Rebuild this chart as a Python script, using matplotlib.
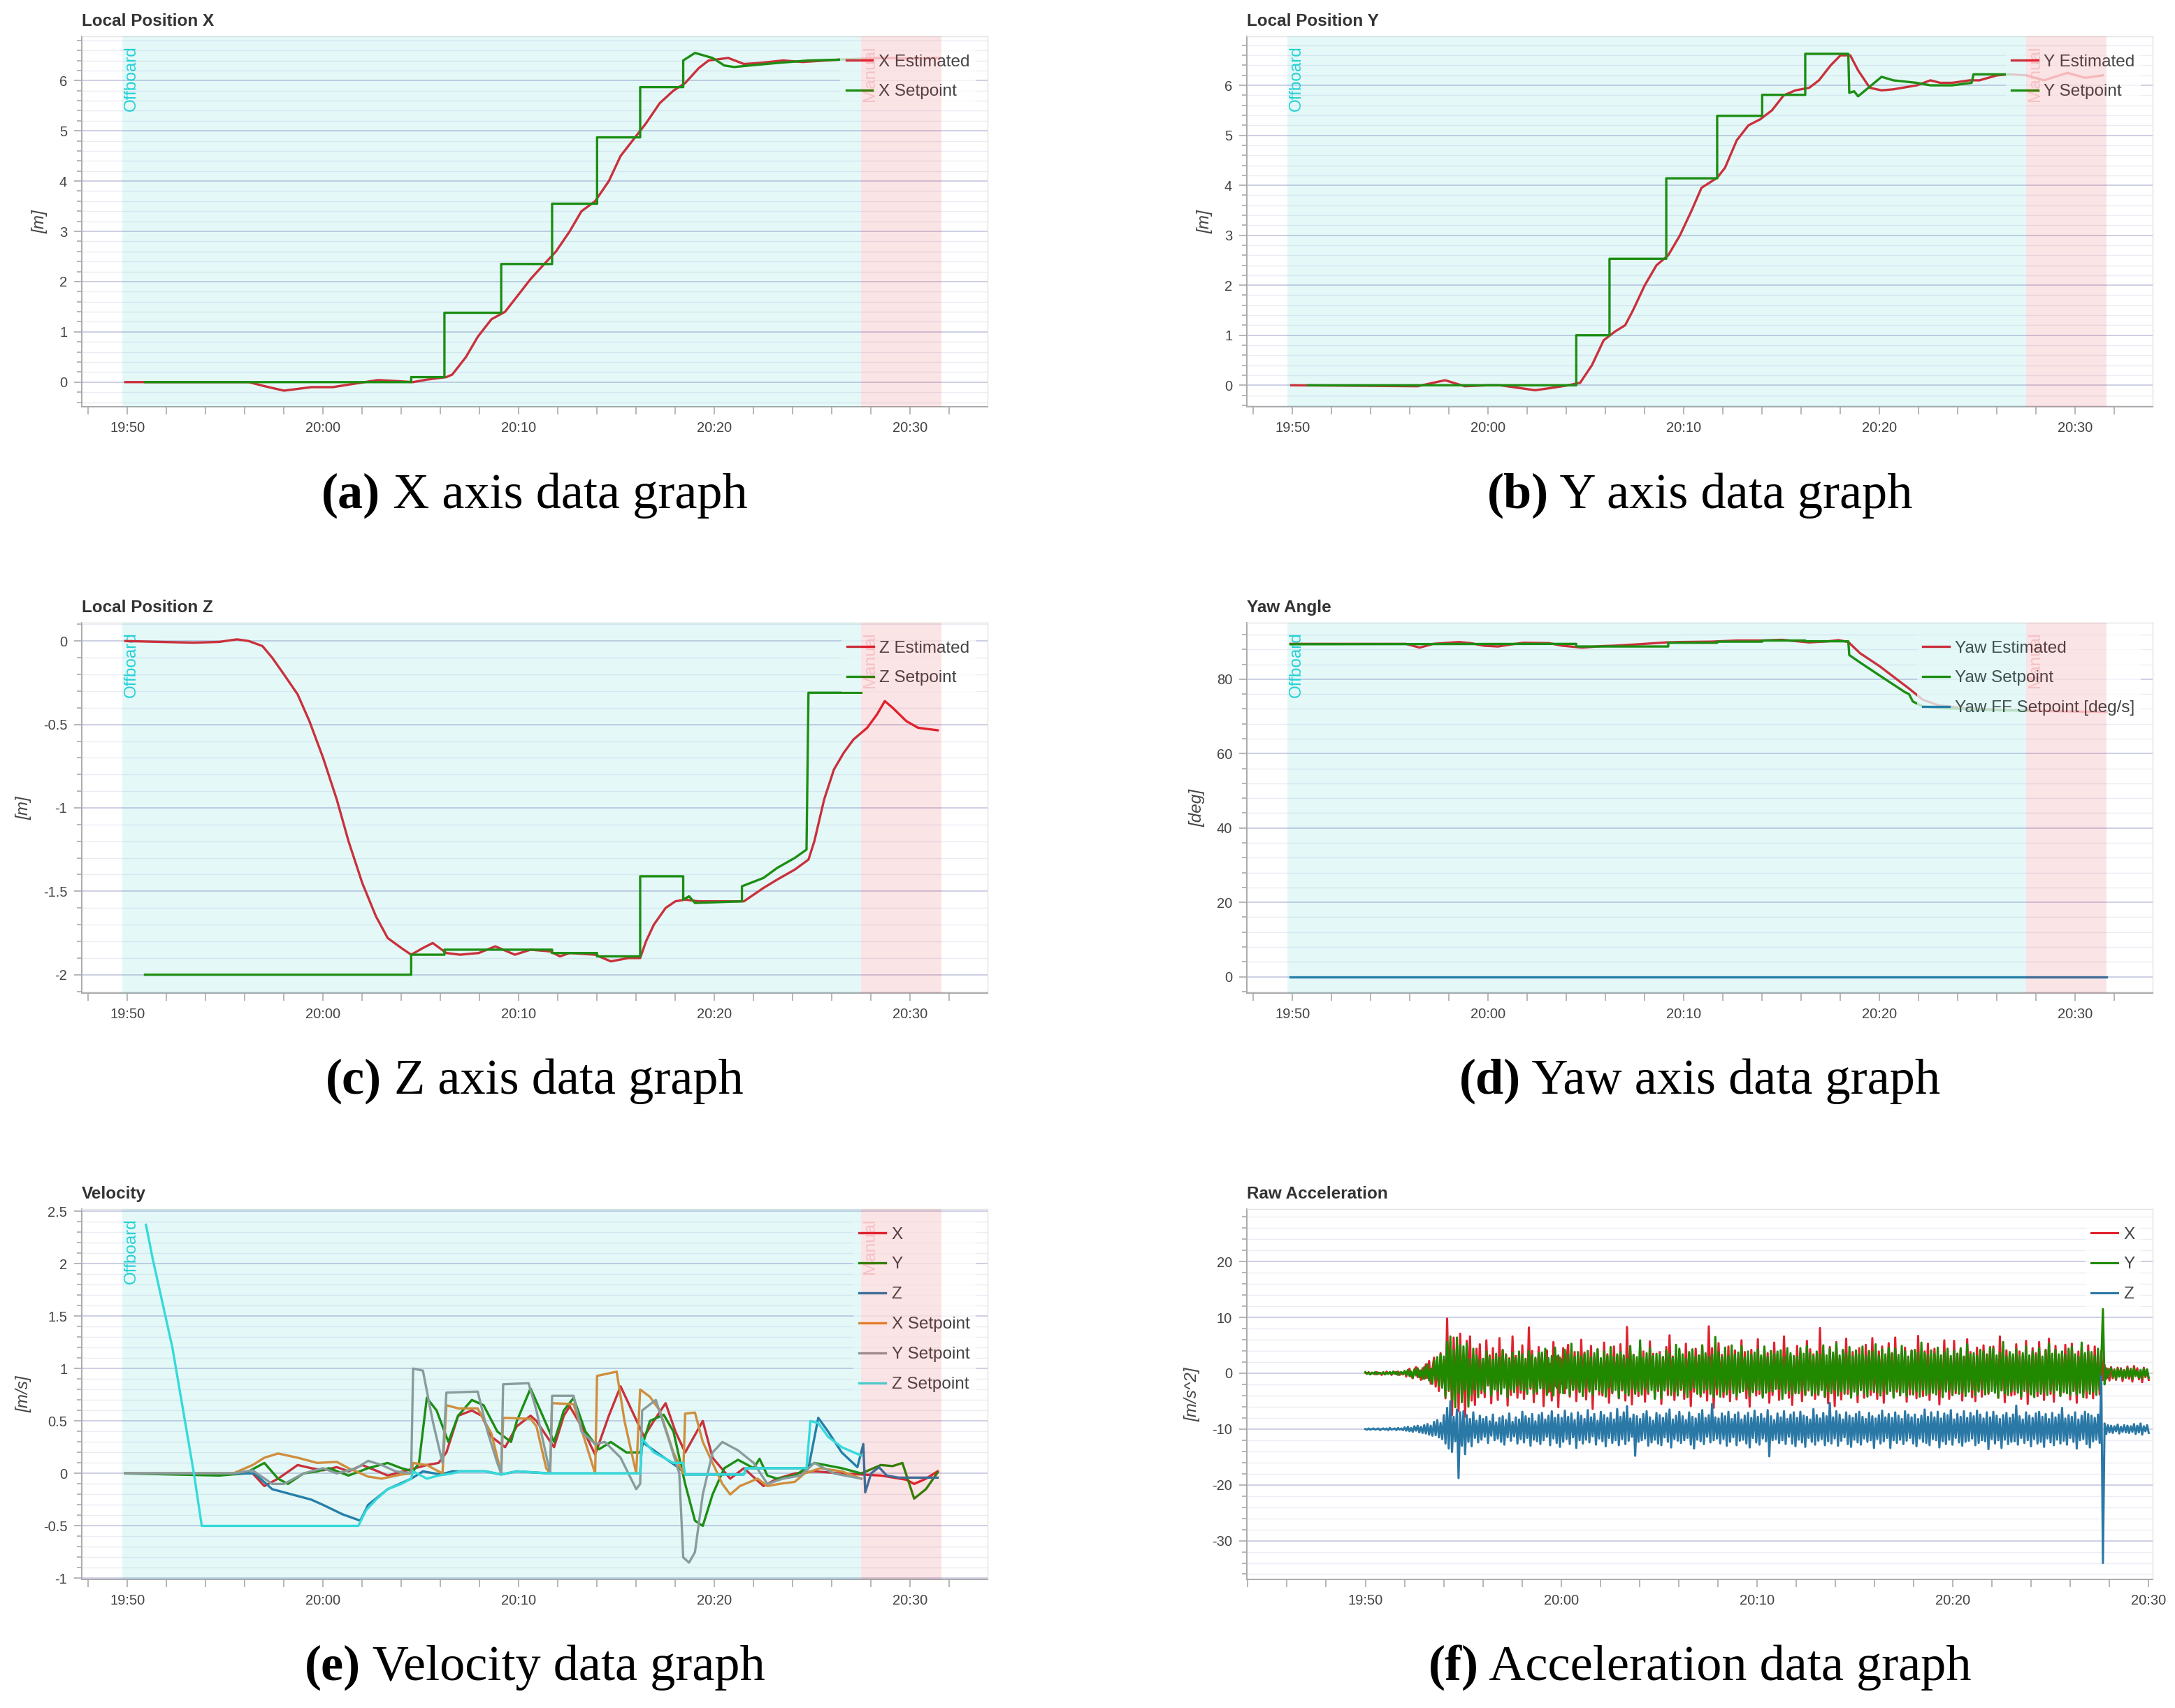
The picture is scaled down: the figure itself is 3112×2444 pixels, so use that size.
import numpy as np
import matplotlib
matplotlib.use("Agg")
import matplotlib.pyplot as plt
from matplotlib.ticker import MultipleLocator, FuncFormatter

plt.rcParams['font.family'] = ['Liberation Sans', 'DejaVu Sans']
plt.rcParams['axes.unicode_minus'] = False

# ---------------- data (time in minutes after 19:50) ----------------
offboard_span = (-0.26, 37.5)
manual_span = (37.5, 41.6)

x_est = [(-0.1, 0), (6.2, 0), (7.0, -0.08), (8.0, -0.17), (9.4, -0.1), (10.5, -0.1), (11.3, -0.05),
         (12.8, 0.04), (13.8, 0.02), (14.6, 0.0), (15.3, 0.05), (16.3, 0.1), (16.6, 0.15), (17.3, 0.5),
         (17.9, 0.9), (18.6, 1.25), (19.3, 1.4), (19.9, 1.7), (20.6, 2.05), (21.3, 2.35), (21.9, 2.6),
         (22.6, 3.0), (23.2, 3.4), (23.9, 3.6), (24.6, 4.0), (25.2, 4.5), (25.9, 4.85), (26.5, 5.15),
         (27.2, 5.55), (27.9, 5.8), (28.5, 5.95), (29.2, 6.25), (29.7, 6.4), (30.7, 6.45), (31.5, 6.33),
         (32.3, 6.35), (33.5, 6.4), (34.5, 6.37), (36.5, 6.42), (38.5, 6.45), (40.0, 6.44), (41.5, 6.45)]
x_sp = [(0.9, 0), (14.5, 0), (14.5, 0.1), (16.2, 0.1), (16.2, 1.38), (19.1, 1.38), (19.1, 2.35), (21.7, 2.35),
        (21.7, 3.55), (24.0, 3.55), (24.0, 4.87), (26.2, 4.87), (26.2, 5.87), (28.4, 5.87), (28.4, 6.4),
        (29.0, 6.55), (29.9, 6.45), (30.5, 6.3), (31.0, 6.27), (31.8, 6.3), (33.2, 6.35), (34.8, 6.4),
        (36.8, 6.42), (37.5, 6.42)]

y_est = [(-0.06, 0), (6.4, -0.02), (7.2, 0.05), (7.8, 0.1), (8.8, -0.02), (10.0, 0.0), (10.6, 0.0),
         (11.5, -0.05), (12.4, -0.1), (13.3, -0.05), (14.1, 0.0), (14.7, 0.05), (15.3, 0.4), (15.9, 0.9),
         (16.5, 1.08), (17.0, 1.2), (17.4, 1.5), (18.0, 2.0), (18.6, 2.4), (19.2, 2.6), (19.8, 3.0),
         (20.4, 3.5), (20.9, 3.95), (21.7, 4.15), (22.1, 4.35), (22.7, 4.9), (23.3, 5.2), (23.9, 5.32),
         (24.5, 5.5), (25.1, 5.8), (25.7, 5.9), (26.4, 5.95), (26.9, 6.1), (27.5, 6.4), (28.0, 6.6),
         (28.5, 6.6), (28.9, 6.3), (29.5, 5.95), (30.1, 5.9), (30.7, 5.92), (31.9, 6.0), (32.6, 6.1),
         (33.1, 6.05), (33.7, 6.05), (34.6, 6.1), (35.1, 6.1), (36.0, 6.2), (36.6, 6.22), (37.5, 6.2),
         (38.4, 6.1), (39.6, 6.25), (40.5, 6.15), (41.4, 6.2)]
y_sp = [(0.8, 0), (14.5, 0), (14.5, 1.0), (16.2, 1.0), (16.2, 2.53), (19.1, 2.53), (19.1, 4.14), (21.7, 4.14),
        (21.7, 5.39), (24.0, 5.39), (24.0, 5.81), (26.2, 5.81), (26.2, 6.63), (28.4, 6.63), (28.45, 5.85),
        (28.7, 5.88), (28.9, 5.78), (30.1, 6.17), (30.7, 6.1), (31.9, 6.05), (32.6, 6.0), (33.7, 6.0),
        (34.7, 6.05), (34.8, 6.22), (36.6, 6.22)]

z_est = [(-0.1, 0), (3.4, -0.01), (4.7, -0.005), (5.6, 0.01), (6.2, 0.0), (6.9, -0.03), (7.4, -0.1),
         (8.0, -0.2), (8.7, -0.32), (9.3, -0.48), (10.0, -0.7), (10.7, -0.95), (11.3, -1.2), (12.0, -1.45),
         (12.7, -1.65), (13.3, -1.78), (14.0, -1.84), (14.5, -1.88), (15.1, -1.84), (15.6, -1.81),
         (16.3, -1.87), (17.0, -1.88), (17.95, -1.87), (18.8, -1.83), (19.8, -1.88), (20.6, -1.85),
         (21.6, -1.86), (22.1, -1.89), (22.6, -1.87), (23.9, -1.88), (24.7, -1.92), (25.6, -1.9),
         (26.2, -1.9), (26.5, -1.8), (26.9, -1.7), (27.5, -1.6), (28.0, -1.56), (28.5, -1.55),
         (29.2, -1.56), (31.5, -1.56), (32.5, -1.48), (33.2, -1.43), (34.1, -1.37), (34.8, -1.31),
         (35.1, -1.2), (35.6, -0.95), (36.1, -0.77), (36.6, -0.67), (37.1, -0.59), (37.8, -0.52),
         (38.3, -0.44), (38.7, -0.36), (39.1, -0.4), (39.8, -0.48), (40.4, -0.52), (41.4, -0.535)]
z_sp = [(0.9, -2.0), (14.5, -2.0), (14.5, -1.88), (16.2, -1.88), (16.2, -1.85), (21.7, -1.85),
        (21.7, -1.87), (24.0, -1.87), (24.0, -1.89), (26.2, -1.89), (26.2, -1.41), (28.4, -1.41),
        (28.4, -1.55), (28.7, -1.53), (29.0, -1.57), (31.4, -1.56), (31.4, -1.47), (32.5, -1.42),
        (33.2, -1.36), (34.1, -1.3), (34.7, -1.25), (34.8, -0.31), (37.5, -0.31)]

yaw_est = [(-0.1, 89.5), (5.8, 89.5), (6.5, 88.5), (7.2, 89.5), (8.5, 90.0), (9.1, 89.7), (9.8, 89.0),
           (10.5, 88.8), (11.1, 89.3), (11.8, 89.8), (13.1, 89.7), (13.8, 89.0), (14.8, 88.5), (15.8, 88.9),
           (16.4, 89.0), (17.7, 89.4), (19.1, 89.9), (19.7, 90.0), (21.4, 90.1), (22.7, 90.4), (24.0, 90.4),
           (25.0, 90.6), (26.4, 89.9), (27.4, 90.2), (27.9, 90.5), (28.4, 90.0), (29.0, 87.0), (30.0, 83.5),
           (31.5, 77.5), (32.2, 74.5), (33.0, 73.0), (34.3, 72.2), (36.0, 71.8), (38.0, 71.5), (40.0, 71.3),
           (41.6, 71.2)]
yaw_sp = [(-0.1, 89.4), (14.5, 89.5), (14.5, 88.8), (19.2, 88.8), (19.2, 89.8), (21.7, 89.8), (21.7, 90.1),
          (24.0, 90.1), (24.0, 90.4), (26.2, 90.4), (26.2, 90.2), (28.4, 90.2), (28.45, 86.5), (29.0, 84.5),
          (30.0, 81.0), (31.3, 76.5), (31.5, 76.0), (31.7, 74.0), (32.2, 72.7), (33.0, 72.3), (35.0, 71.8),
          (37.6, 71.5)]
yaw_ff = [(-0.1, 0.0), (41.6, 0.0)]

vel_x = [(-0.1, 0), (6.4, 0.0), (7.0, -0.12), (7.7, -0.05), (8.7, 0.08), (9.4, 0.05), (10.0, 0.03), (10.7, 0.06),
         (11.3, 0.02), (12.0, 0.08), (12.8, 0.02), (13.3, -0.02), (14.3, 0.03), (15.3, 0.08), (15.9, 0.1),
         (16.3, 0.2), (16.9, 0.55), (17.6, 0.6), (18.1, 0.55), (18.6, 0.35), (19.3, 0.25), (19.9, 0.45),
         (20.6, 0.55), (20.9, 0.5), (21.8, 0.25), (22.3, 0.55), (22.6, 0.64), (23.2, 0.45), (23.9, 0.18),
         (24.6, 0.55), (25.2, 0.83), (25.9, 0.55), (26.4, 0.35), (26.9, 0.5), (27.5, 0.67), (28.0, 0.4),
         (28.5, 0.2), (29.4, 0.5), (29.9, 0.15), (30.8, -0.05), (31.5, 0.05), (32.5, -0.12), (33.2, -0.05),
         (34.1, 0.0), (35.1, 0.02), (36.5, 0.0), (37.5, -0.01), (38.5, -0.02), (39.8, -0.06), (40.2, -0.1),
         (40.8, -0.05), (41.4, 0.02)]
vel_y = [(-0.1, 0), (4.7, -0.02), (6.0, 0.0), (7.0, 0.1), (7.7, -0.05), (8.2, -0.1), (9.0, 0.0), (9.7, 0.02),
         (10.3, 0.05), (11.3, -0.02), (12.3, 0.05), (13.3, 0.1), (14.0, 0.05), (14.6, 0.02), (14.9, 0.1),
         (15.3, 0.72), (15.8, 0.6), (16.4, 0.3), (16.9, 0.55), (17.6, 0.7), (18.2, 0.65), (18.9, 0.4),
         (19.6, 0.3), (19.9, 0.5), (20.6, 0.81), (21.1, 0.6), (21.8, 0.3), (22.3, 0.6), (22.8, 0.72),
         (23.4, 0.4), (24.1, 0.23), (24.7, 0.3), (25.5, 0.2), (26.2, 0.2), (26.7, 0.5), (27.4, 0.56),
         (27.9, 0.4), (28.5, -0.1), (29.0, -0.45), (29.4, -0.5), (29.9, -0.2), (30.5, 0.05), (31.2, 0.13),
         (32.0, 0.05), (32.3, 0.14), (32.7, -0.02), (33.2, -0.05), (34.1, -0.02), (35.1, 0.1), (36.5, 0.05),
         (37.5, 0.0), (38.5, 0.08), (39.1, 0.07), (39.6, 0.1), (40.2, -0.24), (40.8, -0.15), (41.4, 0.01)]
vel_z = [(-0.1, 0), (6.5, 0.0), (7.4, -0.15), (8.4, -0.2), (9.4, -0.25), (10.0, -0.3), (11.0, -0.39),
         (11.9, -0.45), (12.3, -0.3), (13.3, -0.15), (14.5, -0.05), (15.1, 0.02), (16.0, -0.01), (16.6, 0.02),
         (18.3, 0.02), (19.1, -0.01), (19.9, 0.02), (21.6, 0.0), (26.2, 0.0), (26.3, 0.3), (27.2, 0.18),
         (28.2, 0.05), (28.5, -0.01), (31.5, -0.01), (31.6, 0.05), (34.8, 0.05), (35.3, 0.53), (35.8, 0.4),
         (36.5, 0.2), (37.3, 0.06), (37.6, 0.28), (37.7, -0.18), (38.0, 0.0), (38.4, 0.06), (38.8, -0.02),
         (39.4, -0.04), (41.4, -0.04)]
vel_x_sp = [(-0.1, 0), (5.4, 0.0), (6.4, 0.08), (7.0, 0.15), (7.7, 0.19), (8.7, 0.15), (9.7, 0.1), (10.7, 0.11),
            (11.3, 0.05), (12.3, -0.03), (13.0, -0.05), (14.0, -0.01), (14.5, 0.0), (14.6, 0.1), (15.3, 0.08),
            (16.1, 0.0), (16.3, 0.65), (16.9, 0.62), (17.9, 0.62), (18.1, 0.55), (18.6, 0.38), (19.1, 0.0),
            (19.2, 0.53), (20.6, 0.52), (20.9, 0.45), (21.4, 0.05), (21.6, 0.0), (21.7, 0.67), (22.8, 0.66),
            (23.4, 0.3), (23.9, 0.0), (24.0, 0.93), (25.0, 0.97), (25.4, 0.5), (26.0, 0.0), (26.2, 0.8),
            (26.7, 0.73), (27.2, 0.6), (27.9, 0.2), (28.4, 0.0), (28.5, 0.57), (29.0, 0.58), (29.4, 0.3),
            (29.9, 0.1), (30.4, -0.1), (30.8, -0.2), (31.3, -0.12), (32.2, -0.05), (32.7, -0.12), (33.3, -0.1),
            (34.1, -0.08), (34.6, 0.0), (35.4, 0.05), (36.5, 0.02), (37.5, -0.05)]
vel_y_sp = [(-0.1, 0), (5.4, 0.0), (6.4, 0.03), (7.4, -0.1), (8.0, -0.1), (9.0, 0.0), (10.0, 0.05), (10.7, 0.0),
            (11.7, 0.05), (12.3, 0.12), (13.0, 0.08), (13.7, 0.02), (14.5, 0.0), (14.6, 1.0), (15.1, 0.98),
            (15.6, 0.5), (16.1, 0.1), (16.3, 0.77), (17.9, 0.78), (18.4, 0.4), (18.9, 0.1), (19.1, 0.0),
            (19.2, 0.85), (20.5, 0.86), (20.9, 0.6), (21.6, 0.0), (21.7, 0.74), (22.8, 0.74), (23.2, 0.4),
            (23.9, 0.28), (24.4, 0.3), (25.2, 0.15), (26.0, -0.15), (26.2, -0.1), (26.3, 0.6), (27.0, 0.7),
            (27.7, 0.3), (28.2, 0.0), (28.4, -0.8), (28.7, -0.85), (29.0, -0.75), (29.4, -0.2), (29.9, 0.2),
            (30.4, 0.3), (31.2, 0.22), (32.0, 0.1), (32.7, -0.1), (33.5, -0.05), (34.4, -0.02), (35.1, 0.1),
            (36.1, 0.0), (37.5, -0.05)]
vel_z_sp = [(0.95, 2.37), (1.3, 2.04), (2.3, 1.2), (3.4, 0.0), (3.8, -0.5), (11.8, -0.5), (12.2, -0.35),
            (12.7, -0.25), (13.3, -0.15), (14.0, -0.1), (14.5, -0.05), (14.6, 0.02), (15.3, -0.05),
            (15.9, -0.02), (16.6, 0.0), (17.0, 0.02), (18.3, 0.02), (19.1, -0.01), (19.9, 0.02), (21.6, 0.0),
            (26.2, 0.0), (26.3, 0.33), (26.9, 0.2), (27.9, 0.1), (28.4, 0.1), (28.5, -0.01), (31.5, -0.01),
            (31.6, 0.05), (34.7, 0.05), (34.9, 0.5), (35.3, 0.48), (35.8, 0.35), (36.5, 0.25), (37.5, 0.17)]

# raw acceleration, 12 samples per minute from 19:50 to 20:30
acc_t_range = (0.0, 40.0)
acc_x = [
    0.1, -0.1, 0.2, -0.2, 0.1, 0.0, -0.2, 0.2, -0.1, 0.1, -0.3, 0.1,
    -0.2, 0.3, -0.1, 0.2, -0.3, 0.1, 0.2, -0.2, 0.3, -0.3, 0.1, -0.2,
    0.4, -0.6, 0.3, 0.8, -0.5, -0.9, 0.6, 1.1, -0.7, 0.5, -1.2, 0.9,
    -1.0, 1.6, -0.8, 2.2, -1.9, 0.7, 2.8, -2.4, 1.5, -3.2, 3.6, -2.1,
    2.5, -4.5, 9.8, -3.2, 5.6, -7.5, 6.4, -2.8, 4.9, -6.8, 7.1, -4.0,
    3.1, -7.8, 5.8, -2.5, 6.6, -4.9, 2.4, -5.7, 4.4, -3.1, 5.2, -3.6,
    2.0, -4.3, 5.9, -1.8, 3.2, -5.4, 4.5, -2.6, 1.9, -4.8, 6.3, -3.0,
    4.2, -2.2, 3.4, -5.8, 2.7, -3.9, 6.6, -1.9, 3.1, -4.4, 2.5, -3.5,
    5.0, -4.6, 1.8, -3.1, 8.2, -2.8, 4.0, -5.2, 2.6, -3.7, 4.7, -1.6,
    3.3, -5.9, 2.2, 4.1, -3.4, 1.7, -4.9, 5.6, -2.3, 3.0, -6.1, 2.8,
    -1.9, 4.5, -3.6, 2.4, 5.1, -4.2, 1.5, -2.7, 3.8, -5.0, 2.1, -3.3,
    6.0, -2.5, 3.7, -4.7, 1.9, -3.0, 4.9, -6.4, 2.8, -2.1, 4.3, -3.8,
    2.3, -4.0, 5.5, -2.9, 3.4, -5.3, 1.6, -3.6, 4.8, -2.4, 3.1, -4.5,
    5.2, -3.1, 2.7, -4.9, 8.3, -2.2, 4.0, -5.6, 3.3, -3.4, 2.0, -4.1,
    4.6, -2.8, 3.9, -5.1, 2.5, -3.7, 5.7, -2.0, 3.5, -4.4, 1.8, -3.2,
    3.8, -5.5, 2.9, -2.6, 4.7, -3.9, 6.8, -2.4, 3.0, -4.8, 2.2, -3.5,
    4.1, -3.0, 2.4, -4.6, 5.3, -2.7, 3.6, -5.9, 2.1, -3.3, 4.4, -2.5,
    3.2, -4.2, 5.0, -3.5, 2.6, -4.9, 8.4, -3.1, 4.5, -6.2, 2.9, -3.8,
    5.4, -2.9, 3.3, -4.3, 2.0, -3.6, 4.8, -5.0, 3.7, -2.3, 4.1, -4.7,
    2.6, -3.4, 5.9, -2.7, 3.8, -4.5, 2.4, -6.0, 4.2, -3.2, 3.0, -4.0,
    6.1, -3.7, 2.8, -4.1, 4.4, -2.5, 3.6, -5.3, 2.2, -3.9, 5.5, -2.8,
    3.5, -4.8, 2.5, -3.3, 6.6, -2.6, 4.0, -4.4, 3.1, -5.7, 2.7, -3.6,
    4.9, -2.4, 3.7, -5.0, 2.6, -3.8, 5.8, -3.1, 4.3, -2.7, 3.4, -4.6,
    2.8, -3.9, 8.1, -2.9, 3.6, -4.3, 2.3, -5.4, 4.7, -3.3, 3.2, -5.9,
    5.6, -3.1, 2.7, -4.7, 4.0, -2.6, 6.2, -3.7, 2.9, -4.1, 3.8, -2.8,
    3.4, -5.2, 4.5, -3.0, 2.4, -4.4, 5.1, -2.7, 3.7, -3.9, 6.3, -3.4,
    2.5, -4.6, 3.9, -2.8, 4.8, -5.3, 3.0, -3.6, 5.4, -2.5, 3.5, -4.2,
    6.4, -3.3, 2.9, -4.0, 3.6, -2.6, 4.6, -5.1, 2.8, -3.8, 4.1, -3.0,
    3.7, -4.5, 6.7, -3.2, 2.6, -4.1, 3.9, -2.9, 5.3, -4.8, 3.1, -3.5,
    4.4, -2.7, 3.2, -5.6, 2.5, -3.4, 5.9, -3.0, 4.0, -4.6, 2.7, -3.9,
    5.8, -3.6, 3.5, -2.8, 4.3, -4.9, 2.9, -3.3, 6.1, -2.6, 3.8, -4.3,
    3.0, -5.0, 4.6, -3.1, 2.7, -4.2, 5.0, -2.9, 3.4, -3.7, 4.7, -2.5,
    4.8, -3.4, 2.6, -4.4, 6.6, -3.0, 3.3, -5.2, 4.1, -2.7, 3.6, -4.0,
    2.9, -3.8, 5.2, -2.9, 3.9, -4.6, 3.1, -3.2, 5.8, -5.5, 2.8, -3.6,
    4.5, -2.8, 3.6, -4.1, 5.6, -3.3, 2.7, -4.8, 4.2, -3.0, 6.2, -3.7,
    3.3, -5.1, 4.9, -2.6, 3.0, -4.0, 3.7, -3.4, 5.1, -2.9, 4.0, -4.7,
    5.3, -3.2, 2.8, -5.3, 3.9, -2.7, 4.6, -3.6, 3.2, -4.4, 5.0, -3.0,
    3.6, -4.5, 4.8, -2.9, 3.1, -3.8, 4.0, -1.2, 1.5, -1.0, 0.8, -1.3,
    1.1, -0.9, 0.7, -1.2, 1.0, -0.6, 0.9, -1.4, 0.6, -0.8, 1.2, -1.0,
    0.8, -1.5, 1.3, -0.5, 0.9, -1.1, 0.5, -1.6, 1.0, -0.7, 0.6, -1.2]
acc_y = [
    0.2, -0.1, 0.1, -0.2, 0.1, -0.1, 0.2, -0.2, 0.1, 0.0, -0.1, 0.2,
    -0.2, 0.1, -0.1, 0.2, -0.2, 0.3, -0.1, 0.2, -0.3, 0.1, 0.2, -0.2,
    0.4, -0.3, 0.6, -0.5, 0.3, -0.8, 0.7, -0.4, 0.9, -0.7, 0.5, -1.0,
    1.1, -0.9, 1.6, -1.3, 0.8, -1.9, 2.3, -1.2, 2.9, -2.2, 3.4, -2.6,
    3.0, -4.2, 5.6, -3.0, 6.6, -4.8, 4.1, -6.1, 6.4, -3.5, 5.0, -5.2,
    4.8, -3.0, 5.3, -6.0, 2.6, -3.8, 4.4, -2.9, 3.1, -4.3, 2.4, -3.0,
    2.6, -3.4, 3.9, -2.2, 3.0, -4.0, 2.4, -2.9, 3.5, -3.1, 2.8, -3.7,
    4.1, -2.6, 3.2, -4.3, 2.5, -2.9, 3.7, -3.4, 2.7, -2.3, 3.9, -3.0,
    3.4, -3.1, 2.6, -3.7, 4.0, -2.5, 3.3, -3.6, 2.8, -3.3, 3.6, -2.7,
    3.7, -2.8, 4.4, -3.9, 2.7, -3.2, 3.1, -4.0, 4.6, -2.6, 3.2, -3.5,
    2.5, -3.6, 4.2, -2.7, 3.4, -3.9, 5.3, -3.0, 2.9, -2.8, 3.8, -3.4,
    3.0, -4.1, 3.5, -2.6, 4.0, -3.3, 2.8, -3.8, 3.6, -2.9, 4.3, -3.1,
    2.7, -3.5, 3.9, -4.2, 3.1, -2.6, 4.7, -3.4, 2.9, -3.0, 3.4, -4.4,
    3.8, -2.9, 3.2, -3.6, 2.6, -4.0, 4.9, -2.8, 3.3, -3.7, 2.9, -3.2,
    5.9, -3.8, 2.8, -2.7, 3.6, -3.4, 4.5, -3.0, 3.1, -4.6, 3.5, -2.9,
    3.3, -4.5, 2.9, -3.1, 4.1, -2.7, 3.5, -3.9, 2.8, -3.3, 5.1, -4.0,
    4.4, -2.8, 3.4, -3.5, 2.7, -4.3, 3.8, -3.0, 4.3, -2.6, 3.0, -3.7,
    3.2, -3.9, 5.0, -3.1, 3.6, -2.9, 2.9, -3.7, 3.4, -4.2, 6.5, -2.7,
    3.8, -4.2, 2.9, -3.3, 4.6, -3.8, 3.1, -2.9, 5.0, -3.6, 3.3, -4.1,
    3.7, -3.4, 4.9, -3.2, 2.8, -2.9, 3.9, -4.1, 3.3, -3.4, 3.7, -3.0,
    4.3, -3.0, 3.2, -4.4, 4.8, -3.5, 2.9, -3.2, 4.0, -3.3, 3.5, -2.8,
    3.9, -2.8, 4.1, -4.6, 2.9, -3.6, 4.5, -3.1, 3.6, -3.9, 3.1, -3.4,
    2.9, -3.6, 4.5, -3.1, 3.5, -3.9, 4.9, -2.9, 3.6, -4.0, 3.1, -3.4,
    3.9, -3.8, 3.3, -3.0, 5.0, -4.2, 3.2, -3.3, 4.4, -3.6, 3.7, -3.0,
    5.3, -4.0, 3.2, -3.2, 4.2, -3.7, 3.5, -2.8, 4.7, -4.4, 3.0, -3.3,
    4.1, -3.9, 3.4, -3.0, 4.8, -3.5, 3.1, -4.2, 4.0, -2.9, 3.8, -3.2,
    5.2, -3.4, 3.1, -4.0, 4.3, -3.1, 3.4, -3.7, 4.6, -3.2, 3.6, -4.4,
    4.4, -2.9, 3.3, -3.9, 4.9, -3.4, 3.9, -4.1, 3.0, -2.8, 4.0, -3.8,
    4.2, -3.2, 3.7, -4.2, 5.5, -3.0, 3.6, -3.9, 3.3, -3.6, 4.1, -3.5,
    3.5, -3.8, 4.6, -2.9, 3.2, -4.3, 3.8, -3.3, 4.4, -3.0, 3.1, -3.9,
    4.0, -3.1, 3.5, -3.7, 4.5, -3.4, 3.0, -4.1, 5.2, -3.3, 3.4, -3.0,
    3.6, -4.0, 3.1, -3.3, 4.2, -2.9, 3.9, -3.8, 3.3, -3.5, 4.6, -3.2,
    4.4, -3.5, 3.2, -4.4, 3.7, -3.1, 5.6, -3.6, 3.0, -3.9, 3.8, -3.3,
    3.4, -3.1, 4.3, -3.5, 3.1, -4.2, 3.6, -3.0, 4.8, -3.4, 3.2, -3.8,
    3.9, -4.3, 3.3, -3.2, 4.5, -3.7, 3.0, -3.4, 4.1, -3.9, 5.3, -3.1,
    3.5, -3.6, 4.2, -3.0, 3.4, -4.1, 3.9, -3.3, 3.2, -3.6, 4.4, -3.9,
    4.7, -3.2, 3.4, -3.8, 3.0, -3.5, 5.5, -4.3, 3.6, -3.1, 3.9, -3.7,
    3.8, -3.3, 3.1, -3.9, 4.4, -3.0, 2.2, 11.5, -2.0, 0.9, -0.8, 0.6,
    0.9, -0.7, 0.6, -1.0, 0.8, -0.6, 0.7, -0.9, 0.5, -0.8, 0.9, -0.6,
    0.7, -1.0, 0.9, -0.5, 0.4, -0.8, 0.6, -0.9, 0.8, -0.5, 0.7, -0.8]
acc_z = [
    -10.0, -10.1, -9.9, -10.1, -10.0, -9.9, -10.1, -10.0, -9.9, -10.2, -10.0, -9.9,
    -10.1, -9.9, -10.2, -9.8, -10.1, -10.0, -9.9, -10.2, -9.8, -10.1, -9.9, -10.2,
    -9.7, -10.3, -9.6, -10.4, -9.8, -10.5, -9.5, -10.3, -9.4, -10.6, -9.6, -10.7,
    -9.3, -10.8, -9.1, -11.0, -9.4, -11.2, -8.7, -11.1, -8.4, -11.5, -8.9, -11.8,
    -7.5, -12.6, -6.2, -13.5, -5.0, -14.1, -7.8, -12.2, -6.5, -18.8, -7.0, -13.0,
    -6.8, -14.5, -7.5, -12.3, -8.2, -13.1, -7.0, -11.6, -8.5, -12.4, -7.6, -11.9,
    -8.2, -11.4, -7.8, -12.5, -8.6, -11.2, -7.4, -12.0, -8.8, -11.7, -8.0, -12.3,
    -7.7, -12.8, -8.4, -11.5, -7.2, -12.1, -8.7, -11.3, -7.9, -12.6, -8.3, -11.8,
    -6.9, -12.4, -7.7, -11.6, -8.1, -13.0, -7.3, -11.9, -8.6, -12.2, -7.5, -12.7,
    -7.1, -12.0, -8.3, -11.4, -7.6, -12.9, -6.8, -11.7, -8.0, -12.5, -7.4, -13.2,
    -8.0, -12.3, -6.7, -11.8, -7.8, -12.7, -7.2, -11.5, -8.4, -13.4, -7.0, -12.0,
    -7.6, -12.6, -8.2, -11.9, -6.6, -12.4, -7.9, -11.3, -7.3, -12.8, -8.5, -11.7,
    -6.9, -12.2, -7.5, -13.1, -8.0, -11.6, -7.1, -12.5, -8.3, -12.0, -6.4, -12.9,
    -7.8, -11.8, -7.0, -12.7, -5.9, -12.1, -8.1, -11.4, -7.4, -14.8, -7.7, -12.3,
    -8.2, -12.0, -7.3, -11.7, -6.8, -13.0, -7.9, -12.4, -8.5, -11.9, -7.1, -12.6,
    -7.5, -12.9, -8.0, -11.5, -7.2, -12.3, -6.5, -13.3, -8.3, -11.8, -7.6, -12.1,
    -6.9, -12.5, -7.7, -12.0, -8.4, -11.6, -7.0, -12.8, -7.8, -13.5, -8.1, -11.9,
    -7.3, -12.2, -6.6, -12.7, -8.0, -11.4, -7.5, -12.4, -5.5, -12.0, -7.9, -11.7,
    -8.1, -12.6, -7.2, -11.8, -7.7, -13.0, -6.9, -12.3, -8.2, -11.5, -7.4, -12.9,
    -7.0, -12.1, -8.3, -11.9, -7.6, -12.6, -7.1, -13.3, -8.0, -11.6, -6.7, -12.4,
    -7.8, -12.8, -7.3, -11.7, -8.1, -12.2, -6.6, -14.9, -7.7, -12.0, -8.4, -11.8,
    -7.2, -12.5, -7.9, -12.0, -6.8, -12.7, -8.2, -11.4, -7.4, -12.6, -7.0, -13.1,
    -8.0, -11.9, -6.9, -12.4, -7.6, -13.2, -7.8, -11.6, -8.3, -12.3, -6.4, -12.8,
    -7.5, -12.1, -8.1, -11.8, -7.1, -12.9, -7.7, -12.2, -5.3, -12.6, -7.9, -11.7,
    -6.8, -13.0, -7.4, -12.1, -8.3, -11.5, -7.0, -12.7, -7.6, -13.2, -8.0, -11.9,
    -7.3, -12.4, -6.9, -12.8, -7.8, -11.7, -8.2, -12.3, -7.1, -12.0, -7.7, -13.4,
    -8.1, -11.8, -7.5, -12.6, -6.7, -12.2, -7.9, -11.6, -7.3, -13.4, -8.0, -12.0,
    -7.0, -12.5, -7.6, -11.9, -8.2, -12.7, -6.8, -12.1, -7.4, -11.6, -7.9, -12.6,
    -7.4, -13.1, -8.2, -11.7, -7.6, -12.3, -6.5, -12.5, -7.8, -12.9, -7.0, -11.8,
    -7.9, -12.0, -6.9, -13.3, -8.1, -12.2, -7.2, -12.7, -7.5, -11.9, -6.6, -12.8,
    -8.3, -11.6, -7.3, -12.4, -7.8, -13.0, -6.8, -12.3, -8.0, -12.1, -7.1, -11.7,
    -7.7, -12.9, -6.7, -12.5, -7.4, -12.0, -8.1, -12.2, -7.0, -13.6, -7.9, -11.8,
    -6.9, -12.6, -7.6, -12.0, -8.2, -13.4, -7.5, -11.9, -7.1, -12.7, -8.0, -12.3,
    -7.4, -12.2, -5.8, -12.8, -7.7, -11.6, -8.3, -12.5, -7.0, -12.0, -7.6, -13.1,
    -8.0, -11.8, -7.2, -12.6, -6.9, -12.3, -7.8, -13.2, -7.3, -11.7, -8.2, -12.4,
    -7.1, -12.9, -7.9, -11.9, -7.4, -12.6, -6.2, -12.1, -8.1, -12.8, -7.5, -11.6,
    -7.8, -12.3, -7.0, -13.5, -8.3, -12.0, -7.6, -11.8, -6.9, -12.7, -7.3, -13.3,
    -7.6, -12.2, -8.0, -11.9, -7.4, -12.5, -0.5, -34.0, -9.0, -10.9, -9.3, -10.6,
    -9.4, -10.7, -9.5, -10.4, -9.2, -10.8, -9.6, -10.5, -9.3, -10.6, -9.4, -10.7,
    -9.5, -10.5, -9.1, -10.9, -9.4, -10.6, -9.0, -11.0, -9.5, -10.4, -9.3, -10.7]

# ---------------- styling ----------------
RED = '#e0212d'
GREEN = '#208900'
BLUE = '#2a78a6'
ORANGE = '#e8892d'
GRAY = '#999999'
CYAN = '#3cdede'
TXT = '#444444'
LW = 2.4
FS = 17.5
TICK_FS = 14.5

W, H = 3112, 2444
fig = plt.figure(figsize=(W / 100, H / 100), dpi=100)

left_x, right_x = 117 / W, 1784 / W
ax_w, ax_h = 1296 / W, 530 / H
rows = [1 - 582 / H, 1 - 1421 / H, 1 - 2260 / H]


def fmt_time(m, pos=None):
    total = int(round(19 * 60 + 50 + m))
    return f"{total // 60}:{total % 60:02d}"


def fmt_val(v, pos=None):
    return f"{v:g}"


def make_axes(x0, y0, title, ylabel, xlim, ylim, ymaj, ymin_):
    ax = fig.add_axes([x0, y0, ax_w, ax_h])
    ax.set_xlim(*xlim)
    ax.set_ylim(*ylim)
    ax.xaxis.set_major_locator(MultipleLocator(10))
    ax.xaxis.set_minor_locator(MultipleLocator(2))
    ax.xaxis.set_major_formatter(FuncFormatter(fmt_time))
    ax.yaxis.set_major_locator(MultipleLocator(ymaj))
    ax.yaxis.set_minor_locator(MultipleLocator(ymin_))
    ax.yaxis.set_major_formatter(FuncFormatter(fmt_val))
    ax.set_axisbelow(True)
    ax.yaxis.grid(True, which='major', color='#c9cbe3', lw=1.3)
    ax.yaxis.grid(True, which='minor', color='#ececf5', lw=1.0)
    ax.xaxis.grid(False)
    for s in ('top', 'right'):
        ax.spines[s].set_color('#e3e3e3')
        ax.spines[s].set_linewidth(1.0)
    for s in ('left', 'bottom'):
        ax.spines[s].set_color('#aaaaaa')
        ax.spines[s].set_linewidth(1.4)
    ax.tick_params(axis='x', which='both', length=8, width=1.2, color='#aaaaaa',
                   labelsize=TICK_FS, labelcolor=TXT, pad=7)
    ax.tick_params(axis='y', which='major', length=8, width=1.2, color='#aaaaaa',
                   labelsize=TICK_FS, labelcolor=TXT, pad=7)
    ax.tick_params(axis='y', which='minor', length=5, width=1.2, color='#aaaaaa')
    ax.set_ylabel(ylabel, fontsize=FS, style='italic', color=TXT, labelpad=12)
    ax.annotate(title, xy=(0, 1), xycoords='axes fraction', xytext=(0, 11),
                textcoords='offset points', ha='left', va='baseline',
                fontsize=FS, fontweight='bold', color='#333333')
    return ax


def plot_series(ax, pts, color, label):
    arr = np.array(pts, dtype=float)
    ax.plot(arr[:, 0], arr[:, 1], color=color, lw=LW, label=label, zorder=3,
            solid_joinstyle='round')


def add_modes(ax):
    ax.axvspan(*offboard_span, color='#00bebe', alpha=0.1, lw=0, zorder=6)
    ax.axvspan(*manual_span, color=RED, alpha=0.12, lw=0, zorder=6)
    ax.annotate('Offboard', xy=(offboard_span[0], 1), xycoords=('data', 'axes fraction'),
                xytext=(1.5, -9.5), textcoords='offset points', rotation=90,
                ha='left', va='top', fontsize=FS, color='#28d4d8', zorder=2.5)
    ax.annotate('Manual', xy=(manual_span[0], 1), xycoords=('data', 'axes fraction'),
                xytext=(1.5, -9.5), textcoords='offset points', rotation=90,
                ha='left', va='top', fontsize=FS, color=RED, alpha=0.8, zorder=2.5)


def add_legend(ax):
    leg = ax.legend(loc='upper right', fontsize=FS, frameon=True, framealpha=0.78,
                    facecolor='white', edgecolor='none', handlelength=1.55,
                    handletextpad=0.35, labelspacing=0.86, borderpad=0.35,
                    borderaxespad=0.7, fancybox=False)
    for t in leg.get_texts():
        t.set_color(TXT)
    leg.set_zorder(5)
    return leg


TLIM = (-2.33, 43.95)

# (a) X
ax = make_axes(left_x, rows[0], 'Local Position X', '[m]', TLIM, (-0.49, 6.88), 1, 0.2)
plot_series(ax, x_est, RED, 'X Estimated')
plot_series(ax, x_sp, GREEN, 'X Setpoint')
add_modes(ax)
add_legend(ax)

# (b) Y
ax = make_axes(right_x, rows[0], 'Local Position Y', '[m]', TLIM, (-0.43, 6.98), 1, 0.2)
plot_series(ax, y_est, RED, 'Y Estimated')
plot_series(ax, y_sp, GREEN, 'Y Setpoint')
add_modes(ax)
add_legend(ax)

# (c) Z
ax = make_axes(left_x, rows[1], 'Local Position Z', '[m]', TLIM, (-2.11, 0.11), 0.5, 0.1)
plot_series(ax, z_est, RED, 'Z Estimated')
plot_series(ax, z_sp, GREEN, 'Z Setpoint')
add_modes(ax)
add_legend(ax)

# (d) Yaw
ax = make_axes(right_x, rows[1], 'Yaw Angle', '[deg]', TLIM, (-4.4, 95.2), 20, 4)
plot_series(ax, yaw_est, RED, 'Yaw Estimated')
plot_series(ax, yaw_sp, GREEN, 'Yaw Setpoint')
plot_series(ax, yaw_ff, BLUE, 'Yaw FF Setpoint [deg/s]')
add_modes(ax)
add_legend(ax)

# (e) Velocity
ax = make_axes(left_x, rows[2], 'Velocity', '[m/s]', TLIM, (-1.01, 2.52), 0.5, 0.1)
plot_series(ax, vel_x, RED, 'X')
plot_series(ax, vel_y, GREEN, 'Y')
plot_series(ax, vel_z, BLUE, 'Z')
plot_series(ax, vel_x_sp, ORANGE, 'X Setpoint')
plot_series(ax, vel_y_sp, GRAY, 'Y Setpoint')
plot_series(ax, vel_z_sp, CYAN, 'Z Setpoint')
add_modes(ax)
add_legend(ax)

# (f) Raw acceleration
ax = make_axes(right_x, rows[2], 'Raw Acceleration', '[m/s^2]', (-6.05, 40.2), (-36.94, 29.42), 10, 2)
acc_t = np.linspace(acc_t_range[0], acc_t_range[1], len(acc_x))
ax.plot(acc_t, acc_x, color=RED, lw=2.2, label='X', zorder=3)
ax.plot(acc_t, acc_y, color=GREEN, lw=2.2, label='Y', zorder=3)
ax.plot(acc_t, acc_z, color=BLUE, lw=2.2, label='Z', zorder=3)
add_legend(ax)

# ---------------- captions ----------------
captions = [
    ((117 + 648) / W, 1 - 727 / H, 'a', 'X axis data graph'),
    ((1784 + 648) / W, 1 - 727 / H, 'b', 'Y axis data graph'),
    ((117 + 648) / W, 1 - 1565 / H, 'c', 'Z axis data graph'),
    ((1784 + 648) / W, 1 - 1565 / H, 'd', 'Yaw axis data graph'),
    ((117 + 648) / W, 1 - 2404 / H, 'e', 'Velocity data graph'),
    ((1784 + 648) / W, 1 - 2404 / H, 'f', 'Acceleration data graph'),
]
fig.canvas.draw()
renderer = fig.canvas.get_renderer()
for xc, yb, letter, text in captions:
    t1 = fig.text(0, yb, f'({letter})', fontsize=52, fontweight='bold',
                  family=['Liberation Serif', 'DejaVu Serif'], va='baseline', color='black')
    t2 = fig.text(0, yb, ' ' + text, fontsize=52,
                  family=['Liberation Serif', 'DejaVu Serif'], va='baseline', color='black')
    w1 = t1.get_window_extent(renderer).width
    w2 = t2.get_window_extent(renderer).width
    x0 = xc * W - (w1 + w2) / 2
    t1.set_x(x0 / W)
    t2.set_x((x0 + w1) / W)

fig.savefig('out.png', dpi=100, facecolor='white')
